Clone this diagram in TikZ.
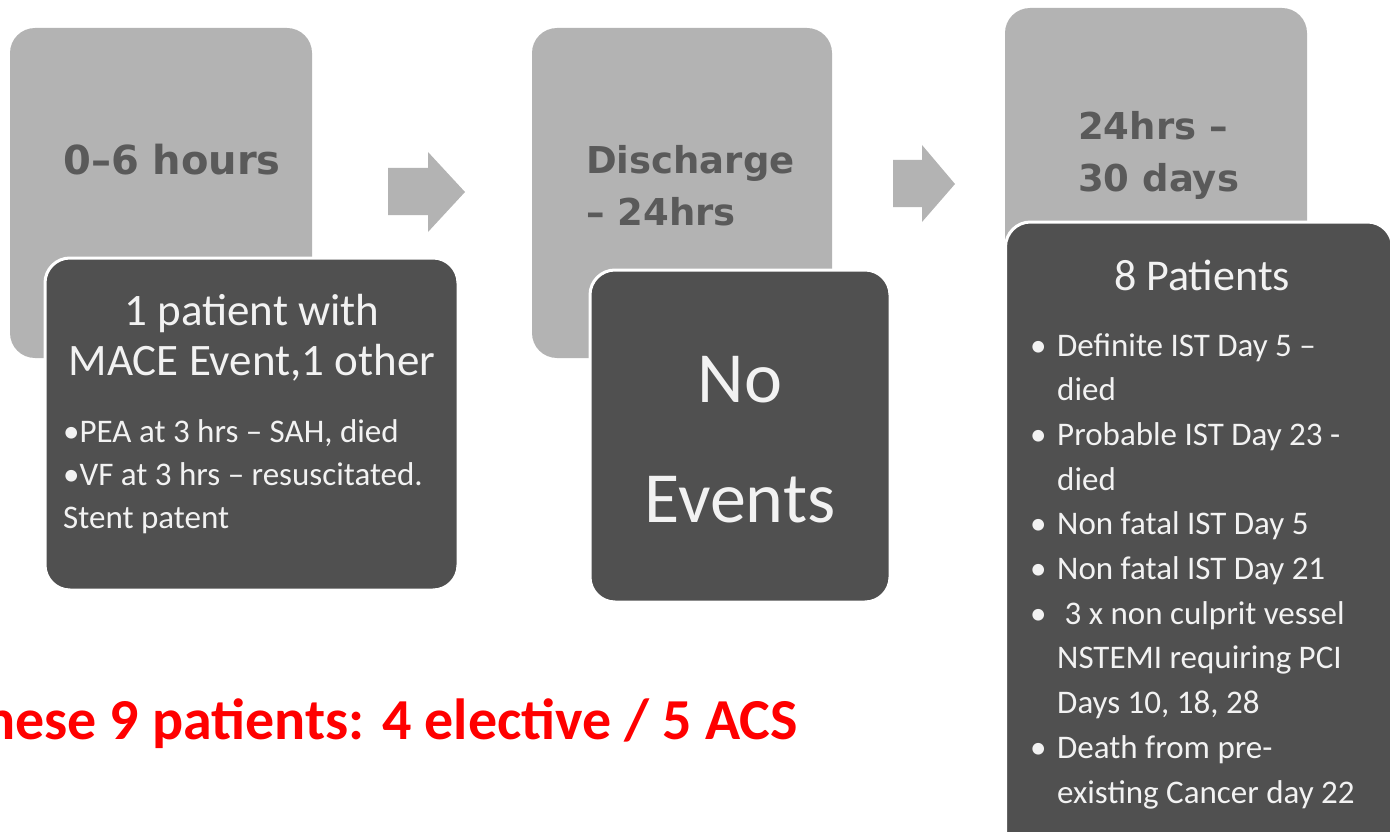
\documentclass[tikz,border=0pt]{standalone}
\usepackage{fontspec}
\setmainfont{Carlito}
\newfontfamily\headfont{DejaVu Sans}
\usepackage{xcolor}
\usepackage{tikz}
\usetikzlibrary{positioning}
\definecolor{lightbox}{HTML}{B3B3B3}
\definecolor{darkbox}{HTML}{505050}
\definecolor{headtxt}{HTML}{5A5A5A}
\definecolor{boxtxt}{HTML}{F2F2F2}

\begin{document}
\begin{tikzpicture}[x=1pt,y=-1pt,
  period/.style={rectangle,rounded corners=25pt,fill=lightbox,inner sep=0pt},
  result/.style={rectangle,rounded corners=25pt,fill=darkbox,draw=white,line width=3pt,inner sep=0pt},
  head/.style={text=headtxt,align=left,inner sep=0pt,font=\headfont\bfseries\fontsize{37}{52}\selectfont},
  wtxt/.style={text=boxtxt,inner sep=0pt}]
 \useasboundingbox (0,0) rectangle (1390,832);
 % light boxes: the time windows
 \node[period,minimum width=302pt,minimum height=330pt] (p1) at (161,193) {};
 \node[period,minimum width=300pt,minimum height=330pt] (p2) at (682,193) {};
 \node[period,minimum width=302pt,minimum height=324pt] (p3) at (1156,170) {};
 \node[head,align=center,font=\headfont\bfseries\fontsize{40}{52}\selectfont] (h1) at (172,160) {0–6 hours};
 \node[head,anchor=west] (h2) at (586,186) {Discharge\\– 24hrs};
 \node[head,anchor=west] (h3) at (1078,155) {24hrs –\\30 days};
 % block arrows
 \fill[lightbox] (388,168) -- (428,168) -- (428,152) -- (465,192) -- (428,232) -- (428,215) -- (388,215) -- cycle;
 \fill[lightbox] (893,160) -- (922,160) -- (922,145) -- (955,184) -- (922,222) -- (922,207) -- (893,207) -- cycle;
 % dark boxes: what happened
 \node[result,minimum width=413pt,minimum height=332pt] (r1) at (251.5,424) {};
 \node[result,minimum width=300pt,minimum height=332pt] (r2) at (740,436) {};
 \node[result,minimum width=387pt,minimum height=640pt] (r3) at (1199,542) {};
 \node[wtxt,align=center,font=\fontsize{45}{50}\selectfont] (t1) at (252,338) {1 patient with\\MACE Event,1 other};
 \node[wtxt,align=left,anchor=north west,font=\fontsize{33}{43}\selectfont] (l1) at (63,419)
  {•PEA at 3 hrs – SAH, died\\•VF at 3 hrs – resuscitated.\\Stent patent};
 \node[wtxt,align=center,font=\fontsize{72}{120}\selectfont] (t2) at (740,440) {No\\Events};
 \node[wtxt,font=\fontsize{44}{50}\selectfont] (t3) at (1202,275) {8 Patients};
 \node[wtxt,align=left,anchor=north west,font=\fontsize{33}{44.7}\selectfont] (l3) at (1030,333)
  {\makebox[27pt][l]{•}Definite IST Day 5 –\\\hspace*{27pt}died\\
   \makebox[27pt][l]{•}Probable IST Day 23 -\\\hspace*{27pt}died\\
   \makebox[27pt][l]{•}Non fatal IST Day 5\\
   \makebox[27pt][l]{•}Non fatal IST Day 21\\
   \makebox[27pt][l]{•} 3 x non culprit vessel\\\hspace*{27pt}NSTEMI requiring PCI\\\hspace*{27pt}Days 10, 18, 28\\
   \makebox[27pt][l]{•}Death from pre-\\\hspace*{27pt}existing Cancer day 22};
 % summary line
 \node[anchor=east,inner sep=0pt,text=red,font=\bfseries\fontsize{58}{64}\selectfont] (sum) at (798,724)
  {These 9 patients: 4 elective / 5 ACS};
\end{tikzpicture}
\end{document}
